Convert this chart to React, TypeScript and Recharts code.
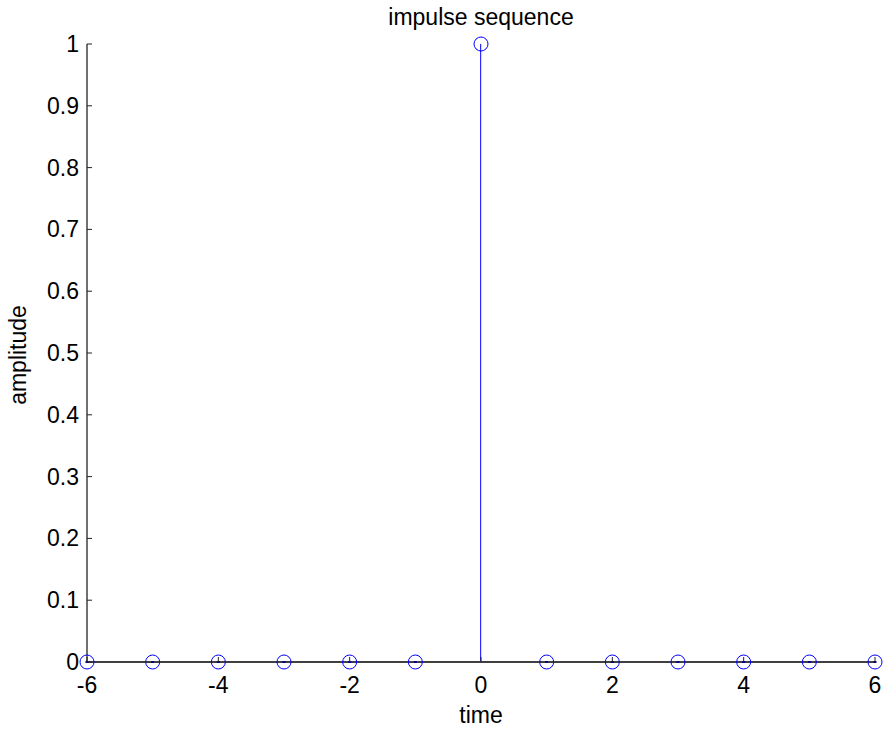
import React from "react";
import {
  ComposedChart,
  Bar,
  Scatter,
  XAxis,
  YAxis,
  ReferenceLine,
} from "recharts";

// impulse sequence, n = -6..6
const timeSteps = [-6, -5, -4, -3, -2, -1, 0, 1, 2, 3, 4, 5, 6];
const amplitude = [0, 0, 0, 0, 0, 0, 1, 0, 0, 0, 0, 0, 0];
const xTicks = [-6, -4, -2, 0, 2, 4, 6];
const yTicks = [0, 0.1, 0.2, 0.3, 0.4, 0.5, 0.6, 0.7, 0.8, 0.9, 1];

const data = timeSteps.map((t, i) => ({ t, amp: amplitude[i] }));

const FONT = "'Liberation Sans', Arial, sans-serif";
const FS = 23;
const AXIS = "#404040";
const STEM = "#0000ff";

const XTick = (props: any) => {
  const { x, y, payload } = props;
  return (
    <g>
      <line x1={x} y1={y} x2={x} y2={y - 5} stroke="#222" strokeWidth={1} />
      <text
        x={x}
        y={y + 31}
        textAnchor="middle"
        fontSize={FS}
        fontFamily={FONT}
        fill="#000"
      >
        {payload.value}
      </text>
    </g>
  );
};

const YTick = (props: any) => {
  const { x, y, payload } = props;
  return (
    <g>
      <line x1={x} y1={y} x2={x + 5} y2={y} stroke="#222" strokeWidth={1} />
      <text
        x={x - 8}
        y={y}
        textAnchor="end"
        dominantBaseline="central"
        fontSize={FS}
        fontFamily={FONT}
        fill="#000"
      >
        {payload.value}
      </text>
    </g>
  );
};

const StemHead = (props: any) => {
  const { cx, cy, payload } = props;
  return (
    <g>
      <circle cx={cx} cy={cy} r={7} fill="none" stroke={STEM} strokeWidth={1} />
      {payload.amp === 0 && (
        <rect x={cx - 1.5} y={cy - 1} width={3} height={2} fill="#00008b" />
      )}
    </g>
  );
};

export default function App() {
  return (
    <div
      style={{
        position: "absolute",
        left: 0,
        top: 0,
        width: 884,
        height: 732,
        background: "#fff",
      }}
    >
      <ComposedChart
        width={884}
        height={732}
        data={data}
        margin={{ top: 44, right: 9, bottom: 0, left: 0 }}
      >
        <XAxis
          dataKey="t"
          type="number"
          domain={[-6, 6]}
          ticks={xTicks}
          interval={0}
          height={70}
          tickSize={0}
          tickMargin={0}
          tickLine={false}
          axisLine={{ stroke: AXIS, strokeWidth: 1.5 }}
          tick={<XTick />}
        />
        <YAxis
          type="number"
          domain={[0, 1]}
          ticks={yTicks}
          interval={0}
          width={87}
          tickSize={0}
          tickMargin={0}
          tickLine={false}
          axisLine={{ stroke: AXIS, strokeWidth: 1.5 }}
          tick={<YTick />}
        />
        <Bar dataKey="amp" barSize={1} fill={STEM} isAnimationActive={false} />
        <ReferenceLine y={0} stroke={AXIS} strokeWidth={2} />
        <Scatter dataKey="amp" shape={<StemHead />} isAnimationActive={false} />
      </ComposedChart>
      <svg
        width={884}
        height={732}
        style={{ position: "absolute", left: 0, top: 0, pointerEvents: "none" }}
      >
        <text
          x={481}
          y={25}
          textAnchor="middle"
          fontSize={FS}
          fontFamily={FONT}
          fill="#000"
        >
          impulse sequence
        </text>
        <text
          x={481}
          y={723}
          textAnchor="middle"
          fontSize={FS}
          fontFamily={FONT}
          fill="#000"
        >
          time
        </text>
        <text
          x={26}
          y={355}
          textAnchor="middle"
          fontSize={FS}
          fontFamily={FONT}
          fill="#000"
          transform="rotate(-90 26 355)"
        >
          amplitude
        </text>
      </svg>
    </div>
  );
}
